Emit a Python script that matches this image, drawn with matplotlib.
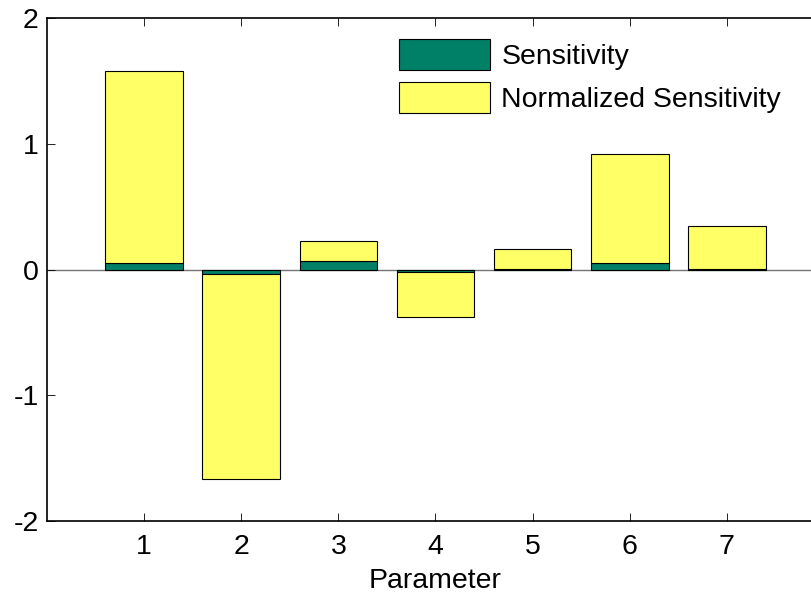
import numpy as np
import matplotlib
matplotlib.use("Agg")
import matplotlib.pyplot as plt

plt.rcParams['font.family'] = ['Liberation Sans', 'DejaVu Sans']
plt.rcParams['axes.unicode_minus'] = False

params = [1, 2, 3, 4, 5, 6, 7]
sensitivity = [0.053, -0.037, 0.07, -0.02, 0.003, 0.053, 0.003]
normalized = [1.527, -1.63, 0.155, -0.354, 0.157, 0.864, 0.341]
labels = ['Sensitivity', 'Normalized Sensitivity']

green = (0.0, 0.5, 0.4)
yellow = (1.0, 1.0, 0.4)
fs = 20.5

fig = plt.figure(figsize=(8.12, 6.02), dpi=100)
ax = fig.add_axes([47 / 812, 81 / 602, 777 / 812, 503 / 602])

x = np.array(params)
s = np.array(sensitivity)
n = np.array(normalized)
ax.bar(x, s, width=0.8, color=green, edgecolor='black', linewidth=0.8, label=labels[0])
ax.bar(x, n, width=0.8, bottom=s, color=yellow, edgecolor='black', linewidth=0.8, label=labels[1])
ax.axhline(0, color='0.45', linewidth=1, zorder=0.5)

ax.set_xlim(0, 8)
ax.set_ylim(-2, 2)
ax.set_xticks(params)
ax.set_yticks([-2, -1, 0, 1, 2])
ax.tick_params(direction='in', length=6, width=0.6, labelsize=fs, top=True, right=True, pad=6)
ax.tick_params(axis='x', pad=9)
for sp in ax.spines.values():
    sp.set_linewidth(1.2)
ax.set_xlabel('Parameter', fontsize=fs, labelpad=6)

ax.legend(loc='upper left', bbox_to_anchor=(399 / 812, 1 - 39 / 602), bbox_transform=fig.transFigure,
          frameon=False, fontsize=fs, handlelength=3.2, handleheight=1.28, handletextpad=0.39,
          labelspacing=0.42, borderpad=0, borderaxespad=0)

fig.savefig('out.png', dpi=100)
